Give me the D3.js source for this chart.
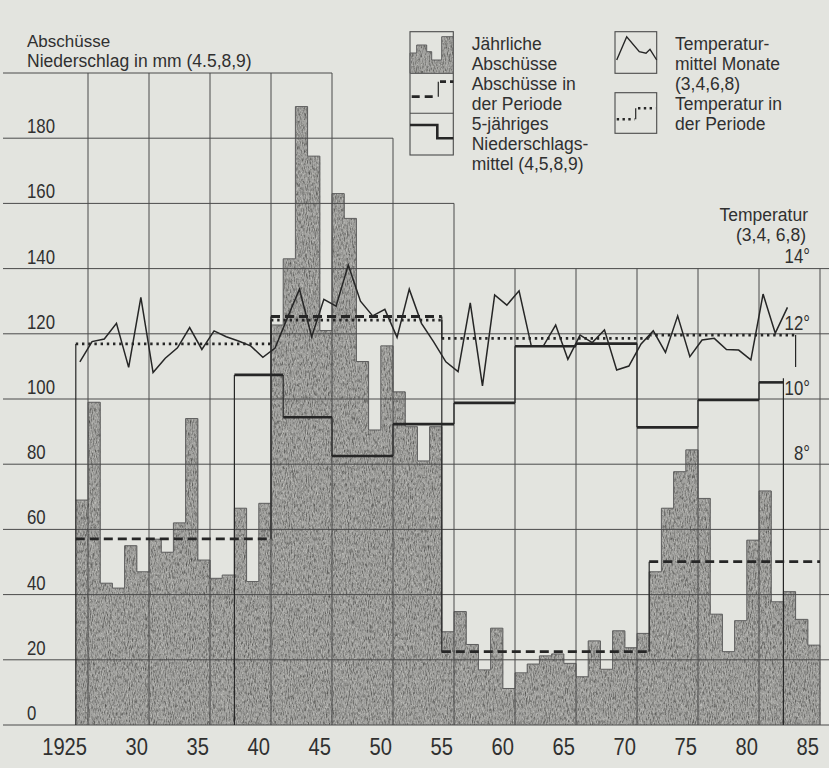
<!DOCTYPE html>
<html>
<head>
<meta charset="utf-8">
<script src="https://cdn.jsdelivr.net/npm/d3@7"></script>
<style>
  html, body { margin: 0; padding: 0; background: #e3e4df; }
  svg { display: block; }
  text { font-family: "Liberation Sans", Arial, sans-serif; fill: #303030; }
</style>
</head>
<body>
<svg id="chart" width="829" height="768"></svg>
<script>
// ---- data -------------------------------------------------------------
const firstYear = 1925;

// yearly number of animals shot, 1925–1985
const shots = [
  69, 99, 43.5, 42, 55, 47, 57, 53, 62, 94, 50.6, 45, 46, 66.5, 44, 68,          // 1925–1940
  122.7, 143, 189.7, 174.5, 121, 163, 155.4, 111.5, 90.5, 116.3, 102.2, 91.5, 81, 91.5, // 1941–1954
  28.6, 34.8, 24.7, 16.9, 29.7, 11.2, 16, 18.7, 21.2, 21.8, 18.9, 14.8, 25.8, 17.1, 28.9, 23.7, 28.1, // 1955–1971
  47, 66.5, 77.7, 84.4, 69.5, 34, 22.5, 32, 56.7, 71.8, 37.8, 40.9, 32.4, 24.5    // 1972–1985
];

// mean temperature of months 3,4,6,8 (°C), 1925–1983
const temps = [
  11.14, 11.76, 11.84, 12.32, 10.97, 13.12, 10.81, 11.25, 11.57, 12.19, 11.52, 12.09, 11.91, 11.78, 11.63, 11.28,
  11.56, 12.48, 13.37, 11.91, 13.06, 12.85, 14.11, 13.0, 12.55, 12.75, 11.89, 13.37, 12.32, 11.75,
  11.14, 10.84, 12.95, 10.40, 13.19, 12.88, 13.32, 11.63, 11.63, 12.27, 11.22, 11.96, 11.73, 12.12, 10.89, 11.01, 11.69,
  12.09, 11.43, 12.55, 11.30, 11.81, 11.86, 11.52, 11.50, 11.20, 13.22, 12.02, 12.81
];

// mean shots per period (from year, to year exclusive)
const shotPeriods = [
  { from: 1925, to: 1941, value: 57.1 },
  { from: 1941, to: 1955, value: 125.3 },
  { from: 1955, to: 1972, value: 22.5 },
  { from: 1972, to: 1986, value: 50.1 }
];

// mean temperature per period (°C)
const tempPeriods = [
  { from: 1925, to: 1941, value: 11.69 },
  { from: 1941, to: 1955, value: 12.42 },
  { from: 1955, to: 1972, value: 11.86 },
  { from: 1972, to: 1984, value: 11.96 }
];

// 5-year precipitation means, months 4,5,8,9 (mm)
const rainMeans = [
  { from: 1938, to: 1942, value: 107.4 },
  { from: 1942, to: 1946, value: 94.4 },
  { from: 1946, to: 1951, value: 82.5 },
  { from: 1951, to: 1956, value: 92.3 },
  { from: 1956, to: 1961, value: 98.8 },
  { from: 1961, to: 1966, value: 116.2 },
  { from: 1966, to: 1971, value: 117.0 },
  { from: 1971, to: 1976, value: 91.3 },
  { from: 1976, to: 1981, value: 99.7 },
  { from: 1981, to: 1983, value: 105.1 }
];

const leftTicks = [0, 20, 40, 60, 80, 100, 120, 140, 160, 180];
const gridValues = [0, 20, 40, 60, 80, 100, 120, 140, 160, 180, 200];
const tempTicks = [8, 10, 12, 14];
const yearTicks = [1925, 1930, 1935, 1940, 1945, 1950, 1955, 1960, 1965, 1970, 1975, 1980, 1985];
const gridYears = [1926, 1931, 1936, 1941, 1946, 1951, 1956, 1961, 1966, 1971, 1976, 1981, 1986];

// the grid frame steps down towards the right to make room for the legend
const frameSteps = [
  { until: 1946, top: 200 },
  { until: 1951, top: 180 },
  { until: 1956, top: 160 },
  { until: 1986, top: 140 }
];

// ---- setup ------------------------------------------------------------
const W = 829, H = 768;
const svg = d3.select("#chart");
const ink = "#262626";
const lineInk = "#4a4a4a";

const x = d3.scaleLinear().domain([1925, 1986]).range([75.8, 820]);
const y = d3.scaleLinear().domain([0, 200]).range([725, 73]);
const yT = d3.scaleLinear().domain([0, 20]).range(y.range());

function label(parent, str, px, py, size, anchor, squeeze) {
  const sx = squeeze || 1;
  return parent.append("text")
    .attr("transform", sx === 1 ? `translate(${px},${py})` : `translate(${px},${py}) scale(${sx},1)`)
    .attr("font-size", size)
    .attr("text-anchor", anchor || "start")
    .text(str);
}
const NUM_SQUEEZE = 0.84;

svg.append("rect").attr("width", W).attr("height", H).attr("fill", "#e3e4df");

// pencil-shading texture for the bars
const defs = svg.append("defs");
const f = defs.append("filter").attr("id", "pencil")
  .attr("filterUnits", "userSpaceOnUse")
  .attr("x", 0).attr("y", 0).attr("width", W).attr("height", H)
  .attr("color-interpolation-filters", "sRGB");
f.append("feTurbulence").attr("type", "fractalNoise").attr("baseFrequency", "0.95 0.24")
  .attr("numOctaves", 2).attr("seed", 7).attr("result", "n1");
f.append("feColorMatrix").attr("in", "n1").attr("type", "matrix")
  .attr("values", "0 0 0 0 0.3  0 0 0 0 0.3  0 0 0 0 0.29  2.1 0 0 0 -0.9")
  .attr("result", "d1");
f.append("feComposite").attr("in", "d1").attr("in2", "SourceGraphic").attr("operator", "in").attr("result", "d2");
f.append("feTurbulence").attr("type", "fractalNoise").attr("baseFrequency", "1.2 0.45")
  .attr("numOctaves", 2).attr("seed", 3).attr("result", "n2");
f.append("feColorMatrix").attr("in", "n2").attr("type", "matrix")
  .attr("values", "0 0 0 0 0.82  0 0 0 0 0.82  0 0 0 0 0.8  -2.1 0 0 0 1.0")
  .attr("result", "l1");
f.append("feComposite").attr("in", "l1").attr("in2", "SourceGraphic").attr("operator", "in").attr("result", "l2");
const merge = f.append("feMerge");
merge.append("feMergeNode").attr("in", "SourceGraphic");
merge.append("feMergeNode").attr("in", "d2");
merge.append("feMergeNode").attr("in", "l2");

// ---- bars -------------------------------------------------------------
const barData = shots.map((v, i) => ({ year: firstYear + i, value: v }));

svg.append("g").attr("filter", "url(#pencil)")
  .selectAll("rect").data(barData).join("rect")
  .attr("x", d => x(d.year))
  .attr("width", d => x(d.year + 1) - x(d.year) + 0.4)
  .attr("y", d => y(d.value))
  .attr("height", d => y(0) - y(d.value))
  .attr("fill", "#a3a3a0");

const skyline = barData.concat([{ year: firstYear + shots.length, value: shots[shots.length - 1] }]);
svg.append("path")
  .attr("d", d3.line().x(d => x(d.year)).y(d => y(d.value)).curve(d3.curveStepAfter)(skyline))
  .attr("fill", "none").attr("stroke", "#5e5e5e").attr("stroke-width", 1);

// ---- grid -------------------------------------------------------------
const ceilingAt = yr => frameSteps.find(s => yr <= s.until).top;
const grid = svg.append("g").attr("stroke", lineInk).attr("stroke-width", 1);

grid.selectAll("line.h").data(gridValues).join("line").attr("class", "h")
  .attr("x1", 3)
  .attr("x2", v => {
    const reach = frameSteps.filter(s => s.top >= v);
    const last = reach[reach.length - 1];
    return last.top === 140 ? W : x(last.until);
  })
  .attr("y1", v => y(v)).attr("y2", v => y(v));

grid.selectAll("line.v").data(gridYears).join("line").attr("class", "v")
  .attr("x1", d => x(d)).attr("x2", d => x(d))
  .attr("y1", y(0)).attr("y2", d => y(ceilingAt(d)));

// ---- precipitation 5-year means --------------------------------------
const rainG = svg.append("g").attr("stroke", ink);
rainG.selectAll("line.seg").data(rainMeans).join("line").attr("class", "seg")
  .attr("x1", d => x(d.from)).attr("x2", d => x(d.to))
  .attr("y1", d => y(d.value)).attr("y2", d => y(d.value))
  .attr("stroke-width", 2.6);
rainG.selectAll("line.rise").data(rainMeans.slice(1)).join("line").attr("class", "rise")
  .attr("x1", d => x(d.from)).attr("x2", d => x(d.from))
  .attr("y1", (d, i) => y(rainMeans[i].value)).attr("y2", d => y(d.value))
  .attr("stroke-width", 1.2);
const rainFirst = rainMeans[0], rainLast = rainMeans[rainMeans.length - 1];
rainG.append("line")
  .attr("x1", x(rainFirst.from)).attr("x2", x(rainFirst.from))
  .attr("y1", y(rainFirst.value)).attr("y2", y(0)).attr("stroke-width", 1.2);
rainG.append("line")
  .attr("x1", x(rainLast.to)).attr("x2", x(rainLast.to))
  .attr("y1", y(rainLast.value) - 4).attr("y2", y(0)).attr("stroke-width", 1.2);

// ---- period means of shots (dashed) -----------------------------------
const shotG = svg.append("g").attr("stroke", ink);
shotG.selectAll("line.seg").data(shotPeriods).join("line").attr("class", "seg")
  .attr("x1", d => x(d.from)).attr("x2", d => x(d.to))
  .attr("y1", d => y(d.value)).attr("y2", d => y(d.value))
  .attr("stroke-width", 2.8).attr("stroke-dasharray", "9 5");
shotG.selectAll("line.rise").data(shotPeriods.slice(1)).join("line").attr("class", "rise")
  .attr("x1", d => x(d.from)).attr("x2", d => x(d.from))
  .attr("y1", (d, i) => y(shotPeriods[i].value)).attr("y2", d => y(d.value))
  .attr("stroke-width", 1.2);

// ---- period means of temperature (dotted) -----------------------------
const tpG = svg.append("g").attr("stroke", ink);
tpG.selectAll("line.seg").data(tempPeriods).join("line").attr("class", "seg")
  .attr("x1", d => x(d.from)).attr("x2", d => x(d.to))
  .attr("y1", d => yT(d.value)).attr("y2", d => yT(d.value))
  .attr("stroke-width", 2.6).attr("stroke-dasharray", "2.4 3.8");
tpG.selectAll("line.rise").data(tempPeriods.slice(1)).join("line").attr("class", "rise")
  .attr("x1", d => x(d.from)).attr("x2", d => x(d.from))
  .attr("y1", (d, i) => yT(tempPeriods[i].value)).attr("y2", d => yT(d.value))
  .attr("stroke-width", 1.2);
const tpFirst = tempPeriods[0], tpLast = tempPeriods[tempPeriods.length - 1];
tpG.append("line")
  .attr("x1", x(tpFirst.from)).attr("x2", x(tpFirst.from))
  .attr("y1", yT(tpFirst.value)).attr("y2", y(0)).attr("stroke-width", 1.2);
tpG.append("line")
  .attr("x1", x(tpLast.to)).attr("x2", x(tpLast.to))
  .attr("y1", yT(tpLast.value)).attr("y2", yT(tpLast.value) + 32).attr("stroke-width", 1.2);

// ---- monthly temperature line -----------------------------------------
svg.append("path")
  .attr("d", d3.line().x((d, i) => x(firstYear + i + 1 / 3)).y(d => yT(d))(temps))
  .attr("fill", "none").attr("stroke", ink).attr("stroke-width", 1.5)
  .attr("stroke-linejoin", "miter");

// ---- axes labels ------------------------------------------------------
const txt = svg.append("g");
leftTicks.forEach(v => label(txt, String(v), 27, y(v) - 5, 20, "start", NUM_SQUEEZE));
tempTicks.forEach(t => label(txt, t + "°", 810, yT(t) - (t === 14 ? 6 : 4), 20, "end", NUM_SQUEEZE));

yearTicks.forEach(yr => {
  if (yr === firstYear) {
    const probe = label(txt, String(yr).slice(2), 0, 0, 24, "start", NUM_SQUEEZE);
    const half = probe.node().getComputedTextLength() * NUM_SQUEEZE / 2;
    probe.remove();
    label(txt, String(yr), x(yr) + half, 755, 24, "end", NUM_SQUEEZE);
  } else {
    label(txt, String(yr).slice(2), x(yr), 755, 24, "middle", NUM_SQUEEZE);
  }
});

label(txt, "Abschüsse", 27, 46.5, 17);
label(txt, "Niederschlag in mm (4.5,8,9)", 27, 66.5, 17.5);
label(txt, "Temperatur", 808, 221, 17.5, "end");
label(txt, "(3,4, 6,8)", 806, 241, 17.5, "end");

// ---- legend -----------------------------------------------------------
const lg = svg.append("g");
const box = lg.append("g").attr("fill", "none").attr("stroke", lineInk).attr("stroke-width", 1.1);
box.append("rect").attr("x", 410).attr("y", 31.7).attr("width", 43.3).attr("height", 123.3);
box.append("line").attr("x1", 410).attr("x2", 453.3).attr("y1", 73.3).attr("y2", 73.3);
box.append("line").attr("x1", 410).attr("x2", 453.3).attr("y1", 113.3).attr("y2", 113.3);
box.append("rect").attr("x", 615).attr("y", 31.7).attr("width", 41.7).attr("height", 41.6);
box.append("rect").attr("x", 615).attr("y", 92.7).attr("width", 41.7).attr("height", 40.6);

// bar swatch
const swatch = [[410, 53], [416.7, 45], [426.7, 51.7], [431.7, 60], [441.7, 36.7]];
const swatchEnd = 453.3, swatchBase = 73.3;
let sp = `M${swatch[0][0]},${swatchBase}`;
swatch.forEach((p, i) => {
  const nx = i < swatch.length - 1 ? swatch[i + 1][0] : swatchEnd;
  sp += `V${p[1]}H${nx}`;
});
sp += `V${swatchBase}Z`;
lg.append("path").attr("d", sp).attr("fill", "#a3a3a0").attr("filter", "url(#pencil)");
lg.append("path").attr("d", sp).attr("fill", "none").attr("stroke", "#5e5e5e").attr("stroke-width", 1);

// dashed step swatch
lg.append("line").attr("x1", 411.7).attr("x2", 436.7).attr("y1", 96.7).attr("y2", 96.7)
  .attr("stroke", ink).attr("stroke-width", 2.8).attr("stroke-dasharray", "8 5");
lg.append("line").attr("x1", 438.3).attr("x2", 438.3).attr("y1", 81.7).attr("y2", 96.7)
  .attr("stroke", ink).attr("stroke-width", 1.2);
lg.append("line").attr("x1", 440).attr("x2", 453.3).attr("y1", 81.7).attr("y2", 81.7)
  .attr("stroke", ink).attr("stroke-width", 2.8).attr("stroke-dasharray", "6 4");

// solid step swatch
lg.append("path").attr("d", "M410,125H437.3V138.3H453.3").attr("fill", "none")
  .attr("stroke", ink).attr("stroke-width", 2.6);

// temperature line swatch
lg.append("path")
  .attr("d", d3.line()([[616.7, 60], [626.7, 36.7], [639.3, 51.7], [646, 53.3], [650, 49.3], [656.7, 60]]))
  .attr("fill", "none").attr("stroke", ink).attr("stroke-width", 1.4);

// dotted step swatch
lg.append("line").attr("x1", 616.7).attr("x2", 634.5).attr("y1", 119.3).attr("y2", 119.3)
  .attr("stroke", ink).attr("stroke-width", 2.6).attr("stroke-dasharray", "2.4 3.4");
lg.append("line").attr("x1", 635.7).attr("x2", 635.7).attr("y1", 108.3).attr("y2", 119.3)
  .attr("stroke", ink).attr("stroke-width", 1.2);
lg.append("line").attr("x1", 638).attr("x2", 655.5).attr("y1", 108.3).attr("y2", 108.3)
  .attr("stroke", ink).attr("stroke-width", 2.6).attr("stroke-dasharray", "2.4 3.4");

const legendLeft = ["Jährliche", "Abschüsse", "Abschüsse in", "der Periode", "5-jähriges", "Niederschlags-", "mittel (4,5,8,9)"];
const legendLeftY = [49.5, 69.5, 89.5, 109.5, 129.5, 149.5, 169.5];
legendLeft.forEach((s, i) => label(lg, s, 471.7, legendLeftY[i], 17.5));

const legendRight = ["Temperatur-", "mittel Monate", "(3,4,6,8)", "Temperatur in", "der Periode"];
const legendRightY = [49.5, 69.5, 89.5, 109.5, 129.5];
legendRight.forEach((s, i) => label(lg, s, 675, legendRightY[i], 17.5));
</script>
</body>
</html>
